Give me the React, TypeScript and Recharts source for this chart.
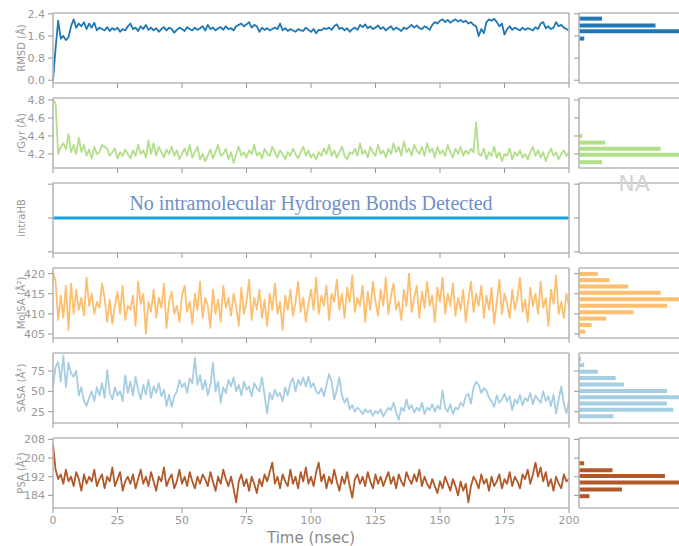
import React from 'react';
import { LineChart, Line, XAxis, YAxis, BarChart, Bar } from 'recharts';

// one sample per nsec
const STEP = 1;
const timeTicks = [0, 25, 50, 75, 100, 125, 150, 175, 200];

const rmsd = [
  0.00, 1.15, 2.15, 1.50, 1.60, 1.45, 1.55, 1.95, 2.20, 1.90,
  2.05, 1.95, 2.10, 1.85, 2.05, 1.90, 2.08, 1.80, 1.90, 1.85,
  1.80, 1.92, 1.78, 1.88, 1.82, 1.90, 1.75, 1.85, 1.80, 1.95,
  2.05, 1.85, 1.90, 1.78, 1.95, 1.85, 2.00, 1.82, 1.90, 1.80,
  1.88, 1.75, 1.85, 1.92, 1.80, 1.90, 1.85, 1.72, 1.82, 1.90,
  1.85, 1.78, 1.92, 1.85, 1.80, 1.90, 1.82, 1.88, 1.95, 1.80,
  2.00, 1.85, 1.90, 1.80, 1.88, 1.92, 1.82, 1.95, 1.85, 1.88,
  1.80, 1.95, 2.00, 2.05, 1.95, 2.02, 2.10, 1.90, 2.00, 1.95,
  1.75, 1.90, 1.82, 1.88, 1.80, 1.85, 1.90, 1.85, 2.05, 1.80,
  1.88, 1.78, 1.85, 1.80, 1.75, 1.85, 1.80, 1.78, 1.90, 1.82,
  1.75, 1.85, 1.70, 1.82, 1.80, 1.88, 1.85, 1.90, 1.82, 1.95,
  2.02, 1.85, 1.90, 1.80, 1.88, 1.75, 1.85, 1.90, 1.82, 2.00,
  1.92, 2.02, 1.88, 1.95, 1.85, 1.90, 1.98, 1.85, 1.92, 1.80,
  1.88, 1.95, 1.82, 1.90, 1.85, 1.78, 1.90, 1.85, 1.92, 2.00,
  1.90, 1.98, 1.88, 1.85, 1.95, 1.90, 1.82, 2.00, 2.10, 2.05,
  2.15, 2.20, 2.10, 2.18, 2.08, 2.15, 2.20, 2.12, 2.18, 2.10,
  2.15, 2.05, 2.10, 2.00, 1.95, 1.60, 1.85, 1.70, 2.10, 2.20,
  2.15, 2.22, 2.10, 1.95, 2.05, 1.65, 1.85, 1.95, 1.82, 1.90,
  1.85, 1.80, 1.90, 1.82, 1.88, 1.85, 1.80, 1.92, 1.85, 2.05,
  2.10, 1.88, 1.95, 1.85, 1.90, 2.10, 1.95, 2.00, 1.90, 1.85,
  1.80,
];

const rgyr = [
  4.81, 4.76, 4.20, 4.28, 4.32, 4.25, 4.42, 4.22, 4.30, 4.20,
  4.38, 4.22, 4.30, 4.18, 4.25, 4.15, 4.28, 4.20, 4.22, 4.30,
  4.28, 4.26, 4.18, 4.22, 4.26, 4.15, 4.22, 4.18, 4.25, 4.20,
  4.15, 4.24, 4.18, 4.30, 4.20, 4.24, 4.16, 4.35, 4.20, 4.32,
  4.18, 4.28, 4.22, 4.16, 4.25, 4.20, 4.28, 4.18, 4.24, 4.14,
  4.20, 4.26, 4.18, 4.30, 4.16, 4.22, 4.28, 4.14, 4.20, 4.12,
  4.18, 4.25, 4.15, 4.22, 4.30, 4.18, 4.20, 4.26, 4.14, 4.22,
  4.10, 4.20, 4.28, 4.18, 4.22, 4.16, 4.24, 4.20, 4.30, 4.18,
  4.22, 4.15, 4.26, 4.20, 4.18, 4.28, 4.22, 4.16, 4.24, 4.20,
  4.14, 4.22, 4.18, 4.26, 4.20, 4.15, 4.22, 4.28, 4.18, 4.24,
  4.16, 4.20, 4.14, 4.22, 4.18, 4.26, 4.20, 4.30, 4.18, 4.24,
  4.16, 4.22, 4.28, 4.18, 4.14, 4.22, 4.20, 4.26, 4.18, 4.32,
  4.20, 4.24, 4.16, 4.28, 4.22, 4.18, 4.30, 4.20, 4.24, 4.16,
  4.26, 4.20, 4.32, 4.22, 4.28, 4.18, 4.34, 4.22, 4.26, 4.18,
  4.30, 4.24, 4.20, 4.28, 4.18, 4.32, 4.22, 4.26, 4.16, 4.28,
  4.20, 4.24, 4.18, 4.30, 4.22, 4.16, 4.26, 4.20, 4.28, 4.18,
  4.24, 4.20, 4.26, 4.22, 4.55, 4.20, 4.18, 4.26, 4.14, 4.22,
  4.18, 4.28, 4.16, 4.22, 4.12, 4.20, 4.18, 4.26, 4.14, 4.22,
  4.18, 4.24, 4.16, 4.20, 4.14, 4.22, 4.28, 4.18, 4.24, 4.16,
  4.22, 4.12, 4.20, 4.26, 4.18, 4.22, 4.14, 4.20, 4.24, 4.18,
  4.22,
];

const intraHBTimes = [0, 200];
const intraHBValues = [0, 0];

const molsa = [
  420.5, 418, 408.5, 414.5, 409, 417, 406, 417.5, 410, 416,
  411, 414, 409.5, 419, 412, 415, 410, 413, 411.5, 417.5,
  414, 408, 413.5, 407.5, 412, 415.5, 410, 417, 408.5, 412,
  411, 414.5, 407, 418, 412.5, 415, 405, 413, 410.5, 416,
  409, 414, 411.5, 417.5, 406.5, 413, 415.5, 410, 412, 408,
  414.5, 417, 410.5, 413, 407.5, 415, 411, 418, 409, 414,
  412, 406.5, 416, 410, 413.5, 408, 417, 411.5, 414, 409.5,
  415, 412, 407, 416.5, 410, 413, 418.5, 408.5, 414, 411,
  416, 409, 413.5, 407, 415, 411, 417.5, 410, 413, 406,
  414.5, 411, 416, 409.5, 413, 418, 410.5, 414, 408, 412.5,
  416, 411, 419, 410, 414.5, 412, 417, 408.5, 415, 413,
  418.5, 411, 415, 409, 416.5, 413, 419.5, 410.5, 414, 412,
  417, 408, 415.5, 411, 418, 413, 409.5, 416, 412, 419,
  410, 414.5, 417.5, 411, 413, 408.5, 416, 412, 420, 410.5,
  414, 417, 409, 415.5, 411.5, 418, 412, 414.5, 408, 416.5,
  413, 419, 410, 415, 412, 417.5, 409.5, 414, 411, 416,
  408, 413.5, 418, 410.5, 415, 412, 417, 409, 414.5, 411,
  416.5, 407.5, 413, 418.5, 410, 415, 412.5, 409, 416, 411,
  414, 419, 410.5, 413.5, 408, 416.5, 412, 415, 410, 418,
  411.5, 414, 407, 416, 412.5, 419.5, 410, 413, 409, 415,
  412,
];

const sasa = [
  55, 80, 86, 62, 94, 55, 85, 72, 68, 75,
  45, 55, 38, 32, 42, 50, 38, 55, 45, 60,
  42, 76, 48, 40, 55, 45, 50, 38, 70, 48,
  62, 45, 68, 52, 40, 58, 46, 64, 42, 56,
  48, 60, 44, 52, 32, 46, 31, 44, 50, 64,
  55, 60, 48, 66, 60, 91, 58, 70, 52, 64,
  45, 58, 85, 50, 62, 36, 55, 48, 64, 56,
  67, 50, 58, 45, 62, 52, 56, 44, 60, 54,
  50, 67, 45, 23, 48, 40, 52, 44, 48, 38,
  55, 45, 60, 66, 50, 64, 58, 67, 56, 68,
  55, 60, 50, 47, 54, 44, 58, 71, 62, 40,
  52, 67, 45, 36, 42, 28, 33, 25, 30, 27,
  22, 28, 24, 27, 20, 26, 23, 28, 19, 25,
  30, 27, 36, 24, 15, 30, 26, 40, 28, 33,
  24, 30, 26, 36, 22, 30, 27, 34, 25, 32,
  28, 51, 30, 25, 34, 22, 30, 28, 36, 32,
  44, 47, 35, 55, 62, 58, 48, 54, 51, 42,
  38, 31, 45, 36, 40, 47, 38, 44, 27, 40,
  35, 46, 33, 42, 38, 48, 34, 45, 40, 36,
  50, 38, 44, 32, 46, 23, 40, 56, 35, 23,
  38,
];

const psa = [
  206, 195, 191, 193, 189, 195, 190, 192, 188, 194,
  191, 186, 193, 189, 192, 190, 195, 188, 191, 193,
  187, 192, 190, 196, 188, 191, 194, 186, 190, 192,
  189, 193, 187, 191, 195, 189, 192, 188, 194, 190,
  186, 192, 190, 196, 188, 191, 193, 187, 190, 195,
  189, 192, 188, 194, 190, 187, 192, 189, 193, 191,
  188, 194, 190, 186, 192, 189, 195, 191, 188, 192,
  187, 181, 190, 193, 188, 191, 186, 192, 189, 185,
  191, 188, 193, 190, 194, 198, 189, 192, 187, 193,
  190, 188, 195, 189, 192, 187, 194, 190, 196, 189,
  192, 188, 194, 198, 190, 193, 187, 192, 189, 195,
  190, 186, 192, 189, 194, 188, 183, 191, 193, 189,
  192, 188, 194, 190, 187, 193, 189, 192, 188, 191,
  194, 189, 192, 187, 193, 190, 188, 194, 191, 189,
  193, 190, 195, 188, 192, 189, 187, 191, 188, 185,
  190, 187, 192, 189, 186, 191, 188, 184, 190, 186,
  189, 181, 188, 192, 190, 187, 193, 189, 191, 186,
  192, 188, 190, 193, 187, 191, 189, 194, 188, 192,
  190, 187, 193, 191, 195, 189, 193, 198, 192, 196,
  190, 194, 188, 191, 186, 192, 189, 187, 193, 190,
  191,
];

// histograms (bin centre, relative count)
const rmsdBins = [2.23, 1.98, 1.77, 1.51];
const rmsdCounts = [22, 73, 100, 5];
const rgyrBins = [4.78, 4.4, 4.326, 4.258, 4.19, 4.108];
const rgyrCounts = [1, 3, 25, 78, 100, 22];
const intraHBBins = [0];
const intraHBCounts = [0];
const molsaBins = [419.9, 418.35, 416.75, 415.2, 413.6, 412.0, 410.4, 408.8, 407.2, 405.55];
const molsaCounts = [18, 29, 47, 78, 100, 84, 52, 26, 12, 6];
const sasaBins = [89.7, 82, 74, 66.2, 58.2, 50.4, 42.7, 34.8, 27.1, 19.3];
const sasaCounts = [2, 5, 18, 35, 43, 84, 100, 84, 90, 33];
const psaBins = [197.8, 194.85, 192.35, 189.6, 186.6, 183.7];
const psaCounts = [5, 32, 82, 100, 41, 10];

const frame = { stroke: '#b8b8b8', strokeWidth: 1.6 };
const tickLine = { stroke: '#999' };
const tickStyle = { fill: '#999', fontSize: 11 };

const toSeries = (vals: number[]) => vals.map((v, i) => ({ t: i * STEP, v }));

const YLabel = (props: any) => {
  const { viewBox, value } = props;
  const cy = viewBox.y + viewBox.height / 2;
  return (
    <text x={21} y={cy} transform={`rotate(-90 21 ${cy})`} textAnchor="middle"
      dominantBaseline="central" fill="#999" fontSize={10}>{value}</text>
  );
};

const XLabel = (props: any) => {
  const { viewBox, value } = props;
  return (
    <text x={viewBox.x + viewBox.width / 2} y={viewBox.y + 35} textAnchor="middle"
      fill="#888" fontSize={15}>{value}</text>
  );
};

const Row = ({ top, data, domain, ticks, fmt, color, width, label, last }: any) => (
  <div style={{ position: 'absolute', left: 0, top: top - 5 }}>
    <LineChart width={586} height={last ? 115 : 83} data={data} margin={{ top: 4, right: 16, bottom: 0, left: 0 }}>
      <XAxis dataKey="t" type="number" domain={[0, 200]} ticks={timeTicks} interval={0}
        height={last ? 40 : 8} tickSize={5} tickMargin={3} tick={tickStyle}
        tickFormatter={last ? (v: number) => String(v) : () => ''}
        axisLine={frame} tickLine={tickLine}
        label={last ? <XLabel value="Time (nsec)" /> : undefined} />
      <XAxis xAxisId="top" orientation="top" dataKey="t" type="number" domain={[0, 200]}
        height={1} tick={false} tickLine={false} axisLine={frame} />
      <YAxis type="number" domain={domain} ticks={ticks} interval={0} width={53}
        tickSize={5} tickMargin={3} tick={tickStyle} tickFormatter={fmt}
        axisLine={frame} tickLine={tickLine} allowDataOverflow
        label={<YLabel value={label} />} />
      <YAxis yAxisId="right" orientation="right" type="number" domain={domain}
        width={1} tick={false} tickLine={false} axisLine={frame} allowDataOverflow />
      <Line dataKey="v" stroke={color} strokeWidth={width} dot={false}
        strokeLinejoin="round" isAnimationActive={false} />
    </LineChart>
  </div>
);

const Hist = ({ top, bins, counts, domain, ticks, color }: any) => {
  const data = bins.map((b: number, i: number) => ({ bin: b, count: counts[i] }));
  return (
    <div style={{ position: 'absolute', left: 571, top: top - 5 }}>
      <BarChart layout="vertical" width={120} height={83} data={data}
        margin={{ top: 4, right: 2, bottom: 7, left: 0 }}>
        <XAxis type="number" dataKey="count" domain={[0, 105]} height={1} tick={false} tickLine={false}
          axisLine={frame} allowDataOverflow />
        <XAxis xAxisId="top" orientation="top" type="number" dataKey="count" domain={[0, 105]} height={1}
          tick={false} tickLine={false} axisLine={frame} allowDataOverflow />
        <YAxis type="number" dataKey="bin" domain={domain} ticks={ticks} interval={0} width={8} reversed
          tickSize={5} tickFormatter={() => ''} axisLine={frame} tickLine={tickLine} allowDataOverflow />
        <Bar dataKey="count" fill={color} barSize={4} isAnimationActive={false} />
      </BarChart>
    </div>
  );
};

const f1 = (v: number) => v.toFixed(1);
const f0 = (v: number) => String(v);

export default function App() {
  const hbData = intraHBTimes.map((t, i) => ({ t, v: intraHBValues[i] }));
  return (
    <div style={{ position: 'absolute', left: 0, top: 0, width: 679, height: 546, overflow: 'hidden',
      background: '#fff', fontFamily: '"DejaVu Sans", sans-serif' }}>
      <Row top={13} data={toSeries(rmsd)} domain={[-0.1, 2.43]} ticks={[0, 0.8, 1.6, 2.4]} fmt={f1}
        color="#1f78b4" width={1.8} label="RMSD (Å)" />
      <Hist top={13} bins={rmsdBins} counts={rmsdCounts} domain={[-0.1, 2.43]} ticks={[0, 0.8, 1.6, 2.4]} color="#1f78b4" />

      <Row top={98} data={toSeries(rgyr)} domain={[4.044, 4.822]} ticks={[4.2, 4.4, 4.6, 4.8]} fmt={f1}
        color="#b2df8a" width={1.8} label="rGyr (Å)" />
      <Hist top={98} bins={rgyrBins} counts={rgyrCounts} domain={[4.044, 4.822]} ticks={[4.2, 4.4, 4.6, 4.8]} color="#b2df8a" />

      <Row top={183} data={hbData} domain={[-1.035, 1.035]} ticks={[-1, 0, 1]} fmt={() => ''}
        color="#1ba1e2" width={3} label="intraHB" />
      <Hist top={183} bins={intraHBBins} counts={intraHBCounts} domain={[-1.035, 1.035]} ticks={[-1, 0, 1]} color="#1ba1e2" />
      <div style={{ position: 'absolute', left: 53, top: 193, width: 516, textAlign: 'center',
        fontFamily: '"Liberation Serif", serif', fontSize: 20, lineHeight: '20px', color: '#6f8fc9' }}>
        No intramolecular Hydrogen Bonds Detected
      </div>
      <div style={{ position: 'absolute', left: 579, top: 173, width: 110, textAlign: 'center',
        fontSize: 22, lineHeight: '22px', color: '#d3d3d3' }}>
        NA
      </div>

      <Row top={268} data={toSeries(molsa)} domain={[404.0, 421.4]} ticks={[405, 410, 415, 420]} fmt={f0}
        color="#fdbf6f" width={1.8} label="MolSA (Å²)" />
      <Hist top={268} bins={molsaBins} counts={molsaCounts} domain={[404.0, 421.4]} ticks={[405, 410, 415, 420]} color="#fdbf6f" />

      <Row top={353} data={toSeries(sasa)} domain={[11.1, 97.1]} ticks={[25, 50, 75]} fmt={f0}
        color="#a6cee3" width={1.8} label="SASA (Å²)" />
      <Hist top={353} bins={sasaBins} counts={sasaCounts} domain={[11.1, 97.1]} ticks={[25, 50, 75]} color="#a6cee3" />

      <Row top={438} data={toSeries(psa)} domain={[178.6, 208.6]} ticks={[184, 192, 200, 208]} fmt={f0}
        color="#b15928" width={1.8} label="PSA (Å²)" last />
      <Hist top={438} bins={psaBins} counts={psaCounts} domain={[178.6, 208.6]} ticks={[184, 192, 200, 208]} color="#b15928" />
    </div>
  );
}
